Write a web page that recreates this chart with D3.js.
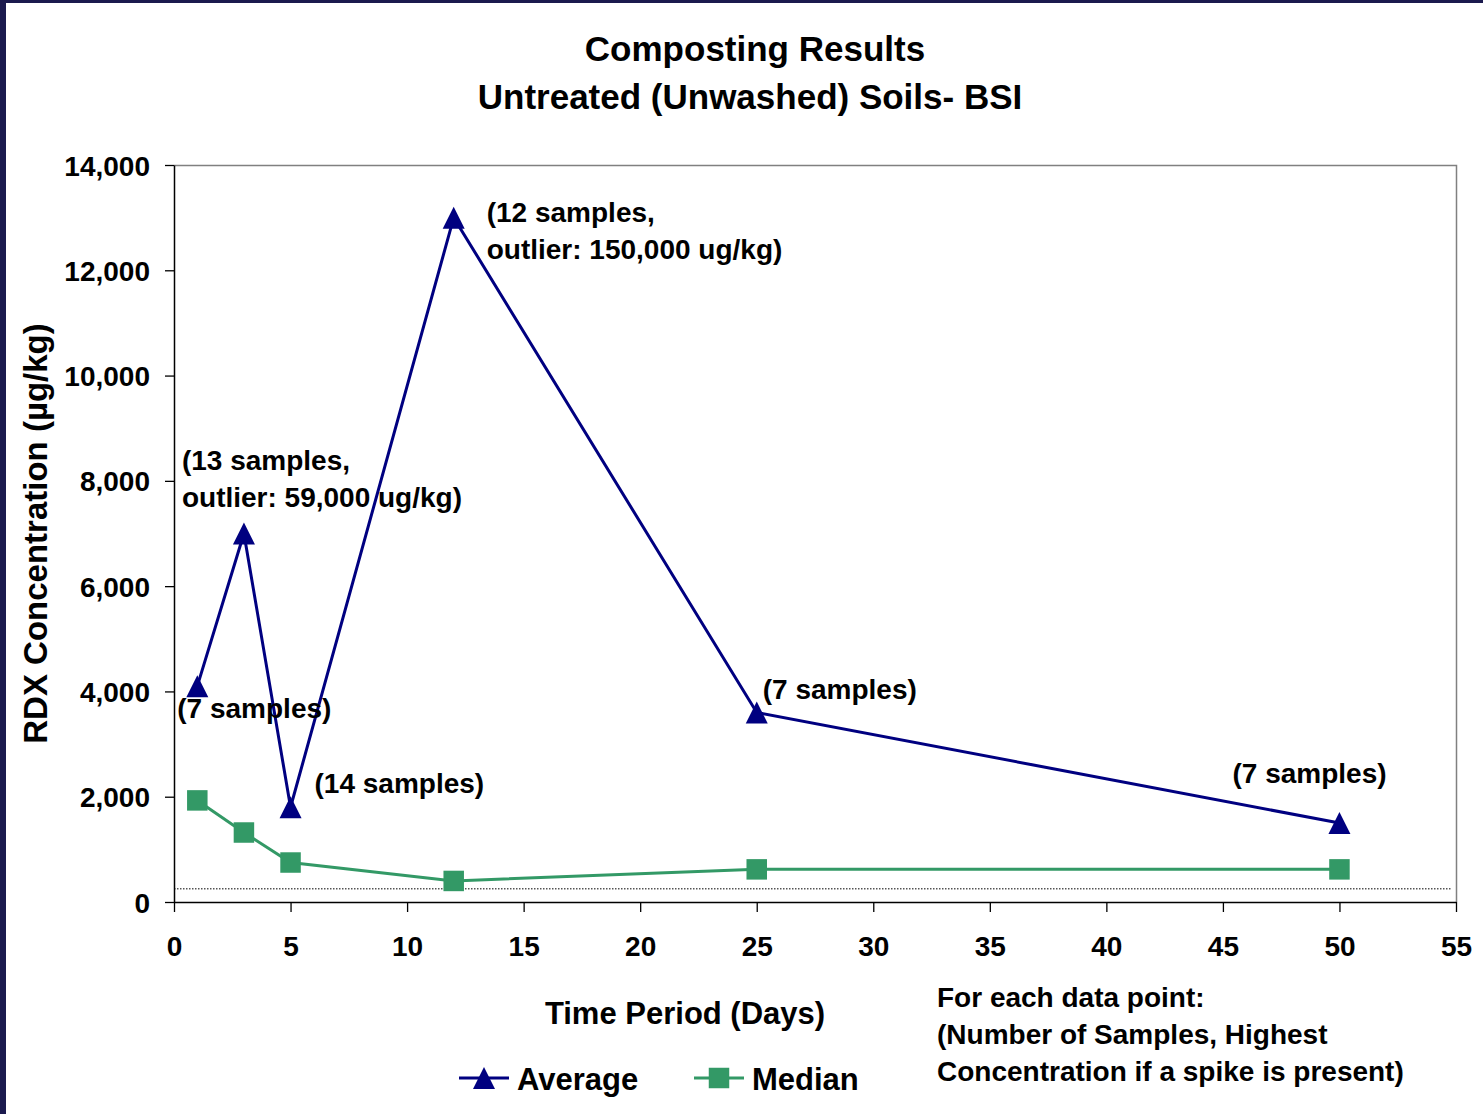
<!DOCTYPE html>
<html>
<head>
<meta charset="utf-8">
<script src="https://cdn.jsdelivr.net/npm/d3@7"></script>
<style>
    html, body { margin: 0; padding: 0; background: #fff; }
    #chart { width: 1483px; height: 1114px; }
    text { font-family: "Liberation Sans", Arial, sans-serif; font-weight: bold; fill: #000; }
</style>
</head>
<body>
<div id="chart"></div>
<script>
// 数据
const days = [1, 3, 5, 12, 25, 50];
const average = [4100, 7000, 1800, 13000, 3600, 1500];
const median = [1930, 1320, 750, 400, 620, 620];
const detectionLimit = 250;
const xTicks = [0, 5, 10, 15, 20, 25, 30, 35, 40, 45, 50, 55];
const yTicks = [0, 2000, 4000, 6000, 8000, 10000, 12000, 14000];
// 每个点的注释 (index 对应 average 里的点)
const noteIndex = [0, 1, 2, 3, 4, 5];
const noteLines = [
    ['(7 samples)'],
    ['(13 samples,', 'outlier: 59,000 ug/kg)'],
    ['(14 samples)'],
    ['(12 samples,', 'outlier: 150,000 ug/kg)'],
    ['(7 samples)'],
    ['(7 samples)']
];
const footnote = ['For each data point:', '(Number of Samples, Highest', 'Concentration if a spike is present)'];

const drawChart = (container) => {
    const dimensions = {
        width: 1483,
        height: 1114,
        margin: {top: 165, right: 27, bottom: 212, left: 174}
    };
    dimensions.boundWidth = dimensions.width - dimensions.margin.left - dimensions.margin.right;
    dimensions.boundHeight = dimensions.height - dimensions.margin.top - dimensions.margin.bottom;

    const root = d3.select(container).append('svg')
        .attr('width', dimensions.width)
        .attr('height', dimensions.height);

    // 外框 (深蓝色边)
    root.append('rect').attr('x', 0).attr('y', 0).attr('width', 6).attr('height', dimensions.height).attr('fill', '#1b1a4e');
    root.append('rect').attr('x', 0).attr('y', 0).attr('width', dimensions.width).attr('height', 3).attr('fill', '#1b1a4e');

    // 标题
    const title = root.append('g').attr('text-anchor', 'middle').style('font-size', '35px');
    title.append('text').attr('x', 755).attr('y', 61).text('Composting Results');
    title.append('text').attr('x', 750).attr('y', 109).text('Untreated (Unwashed) Soils- BSI');

    const svg = root.append('g')
        .attr('transform', `translate(${dimensions.margin.left},${dimensions.margin.top})`);

    const x = d3.scaleLinear().domain([0, 55]).range([0, dimensions.boundWidth]);
    const y = d3.scaleLinear().domain([0, 14000]).range([dimensions.boundHeight, 0]);

    // 图区边框 (上、右 灰色)
    svg.append('path')
        .attr('d', `M0,0.5H${dimensions.boundWidth + 0.5}V${dimensions.boundHeight}`)
        .attr('fill', 'none')
        .attr('stroke', '#808080')
        .attr('stroke-width', 1.5);

    // 坐标轴
    const yAxis = svg.append('g')
        .call(d3.axisLeft(y).tickValues(yTicks).tickSize(9).tickSizeOuter(0).tickPadding(15).tickFormat(d3.format(',')));
    const xAxis = svg.append('g')
        .attr('transform', `translate(0,${dimensions.boundHeight})`)
        .call(d3.axisBottom(x).tickValues(xTicks).tickSize(10).tickSizeOuter(0).tickPadding(24));
    [xAxis, yAxis].forEach(axis => {
        axis.select('.domain').attr('stroke', '#000').attr('stroke-width', 1.5);
        axis.selectAll('.tick line').attr('stroke', '#000').attr('stroke-width', 1.3);
        axis.selectAll('.tick text')
            .style('font-size', '28px')
            .style('font-family', '"Liberation Sans", Arial, sans-serif')
            .style('font-weight', 'bold')
            .attr('fill', '#000');
    });
    yAxis.selectAll('.tick text').attr('dy', '0.36em');
    xAxis.selectAll('.tick text').attr('dy', '0.72em');

    // 轴标题
    root.append('text')
        .attr('transform', `translate(47,${dimensions.margin.top + y(7000)}) rotate(-90)`)
        .attr('text-anchor', 'middle')
        .style('font-size', '33px')
        .text('RDX Concentration (µg/kg)');
    root.append('text')
        .attr('x', 685).attr('y', 1024)
        .attr('text-anchor', 'middle')
        .style('font-size', '31px')
        .text('Time Period (Days)');

    // 检出限虚线
    svg.append('line')
        .attr('x1', 0).attr('x2', dimensions.boundWidth - 4)
        .attr('y1', y(detectionLimit)).attr('y2', y(detectionLimit))
        .attr('stroke', '#000').attr('stroke-width', 1)
        .attr('stroke-dasharray', '1.5,1.5');

    const navy = '#000080';
    const green = '#339966';
    // Excel 风格三角形: 宽高相等
    const tallTriangle = {
        draw(context, size) {
            const h = Math.sqrt(size) / 2;
            context.moveTo(0, -h);
            context.lineTo(h, h);
            context.lineTo(-h, h);
            context.closePath();
        }
    };
    const triangle = d3.symbol().type(tallTriangle).size(484);
    const square = d3.symbol().type(d3.symbolSquare).size(420);

    const lineGen = d3.line().x(d => x(d[0])).y(d => y(d[1]));
    const avgPoints = d3.zip(days, average);
    const medPoints = d3.zip(days, median);

    svg.append('path').datum(medPoints)
        .attr('d', lineGen).attr('fill', 'none').attr('stroke', green).attr('stroke-width', 3);
    svg.selectAll('.med').data(medPoints).join('path')
        .attr('class', 'med')
        .attr('transform', d => `translate(${x(d[0])},${y(d[1])})`)
        .attr('d', square).attr('fill', green);

    svg.append('path').datum(avgPoints)
        .attr('d', lineGen).attr('fill', 'none').attr('stroke', navy).attr('stroke-width', 3);
    svg.selectAll('.avg').data(avgPoints).join('path')
        .attr('class', 'avg')
        .attr('transform', d => `translate(${x(d[0])},${y(d[1])})`)
        .attr('d', triangle).attr('fill', navy);

    // 注释 (相对数据点的像素偏移)
    const noteOffsets = [[-20, 32], [-62, -64], [24, -14], [33, 4], [6, -13], [-107, -40]];
    const notes = svg.append('g').style('font-size', '28px');
    noteIndex.forEach((pi, i) => {
        const [dx, dy] = noteOffsets[i];
        const t = notes.append('text')
            .attr('x', x(days[pi]) + dx)
            .attr('y', y(average[pi]) + dy);
        noteLines[i].forEach((line, j) => {
            t.append('tspan')
                .attr('x', x(days[pi]) + dx)
                .attr('dy', j === 0 ? 0 : 37)
                .text(line);
        });
    });

    // 图例
    const legend = root.append('g').style('font-size', '31px');
    const items = [
        {name: 'Average', color: navy, symbol: triangle, x: 459},
        {name: 'Median', color: green, symbol: square, x: 694}
    ];
    items.forEach(item => {
        const g = legend.append('g').attr('transform', `translate(${item.x},1078)`);
        g.append('line').attr('x1', 0).attr('x2', 50).attr('stroke', item.color).attr('stroke-width', 3);
        g.append('path').attr('transform', 'translate(25,0)').attr('d', item.symbol).attr('fill', item.color);
        g.append('text').attr('x', 58).attr('y', 12).text(item.name);
    });

    // 说明文字
    const foot = root.append('text').style('font-size', '28px');
    footnote.forEach((line, i) => {
        foot.append('tspan').attr('x', 937).attr('y', 1007 + i * 37).text(line);
    });
};

drawChart(document.getElementById('chart'));
</script>
</body>
</html>
